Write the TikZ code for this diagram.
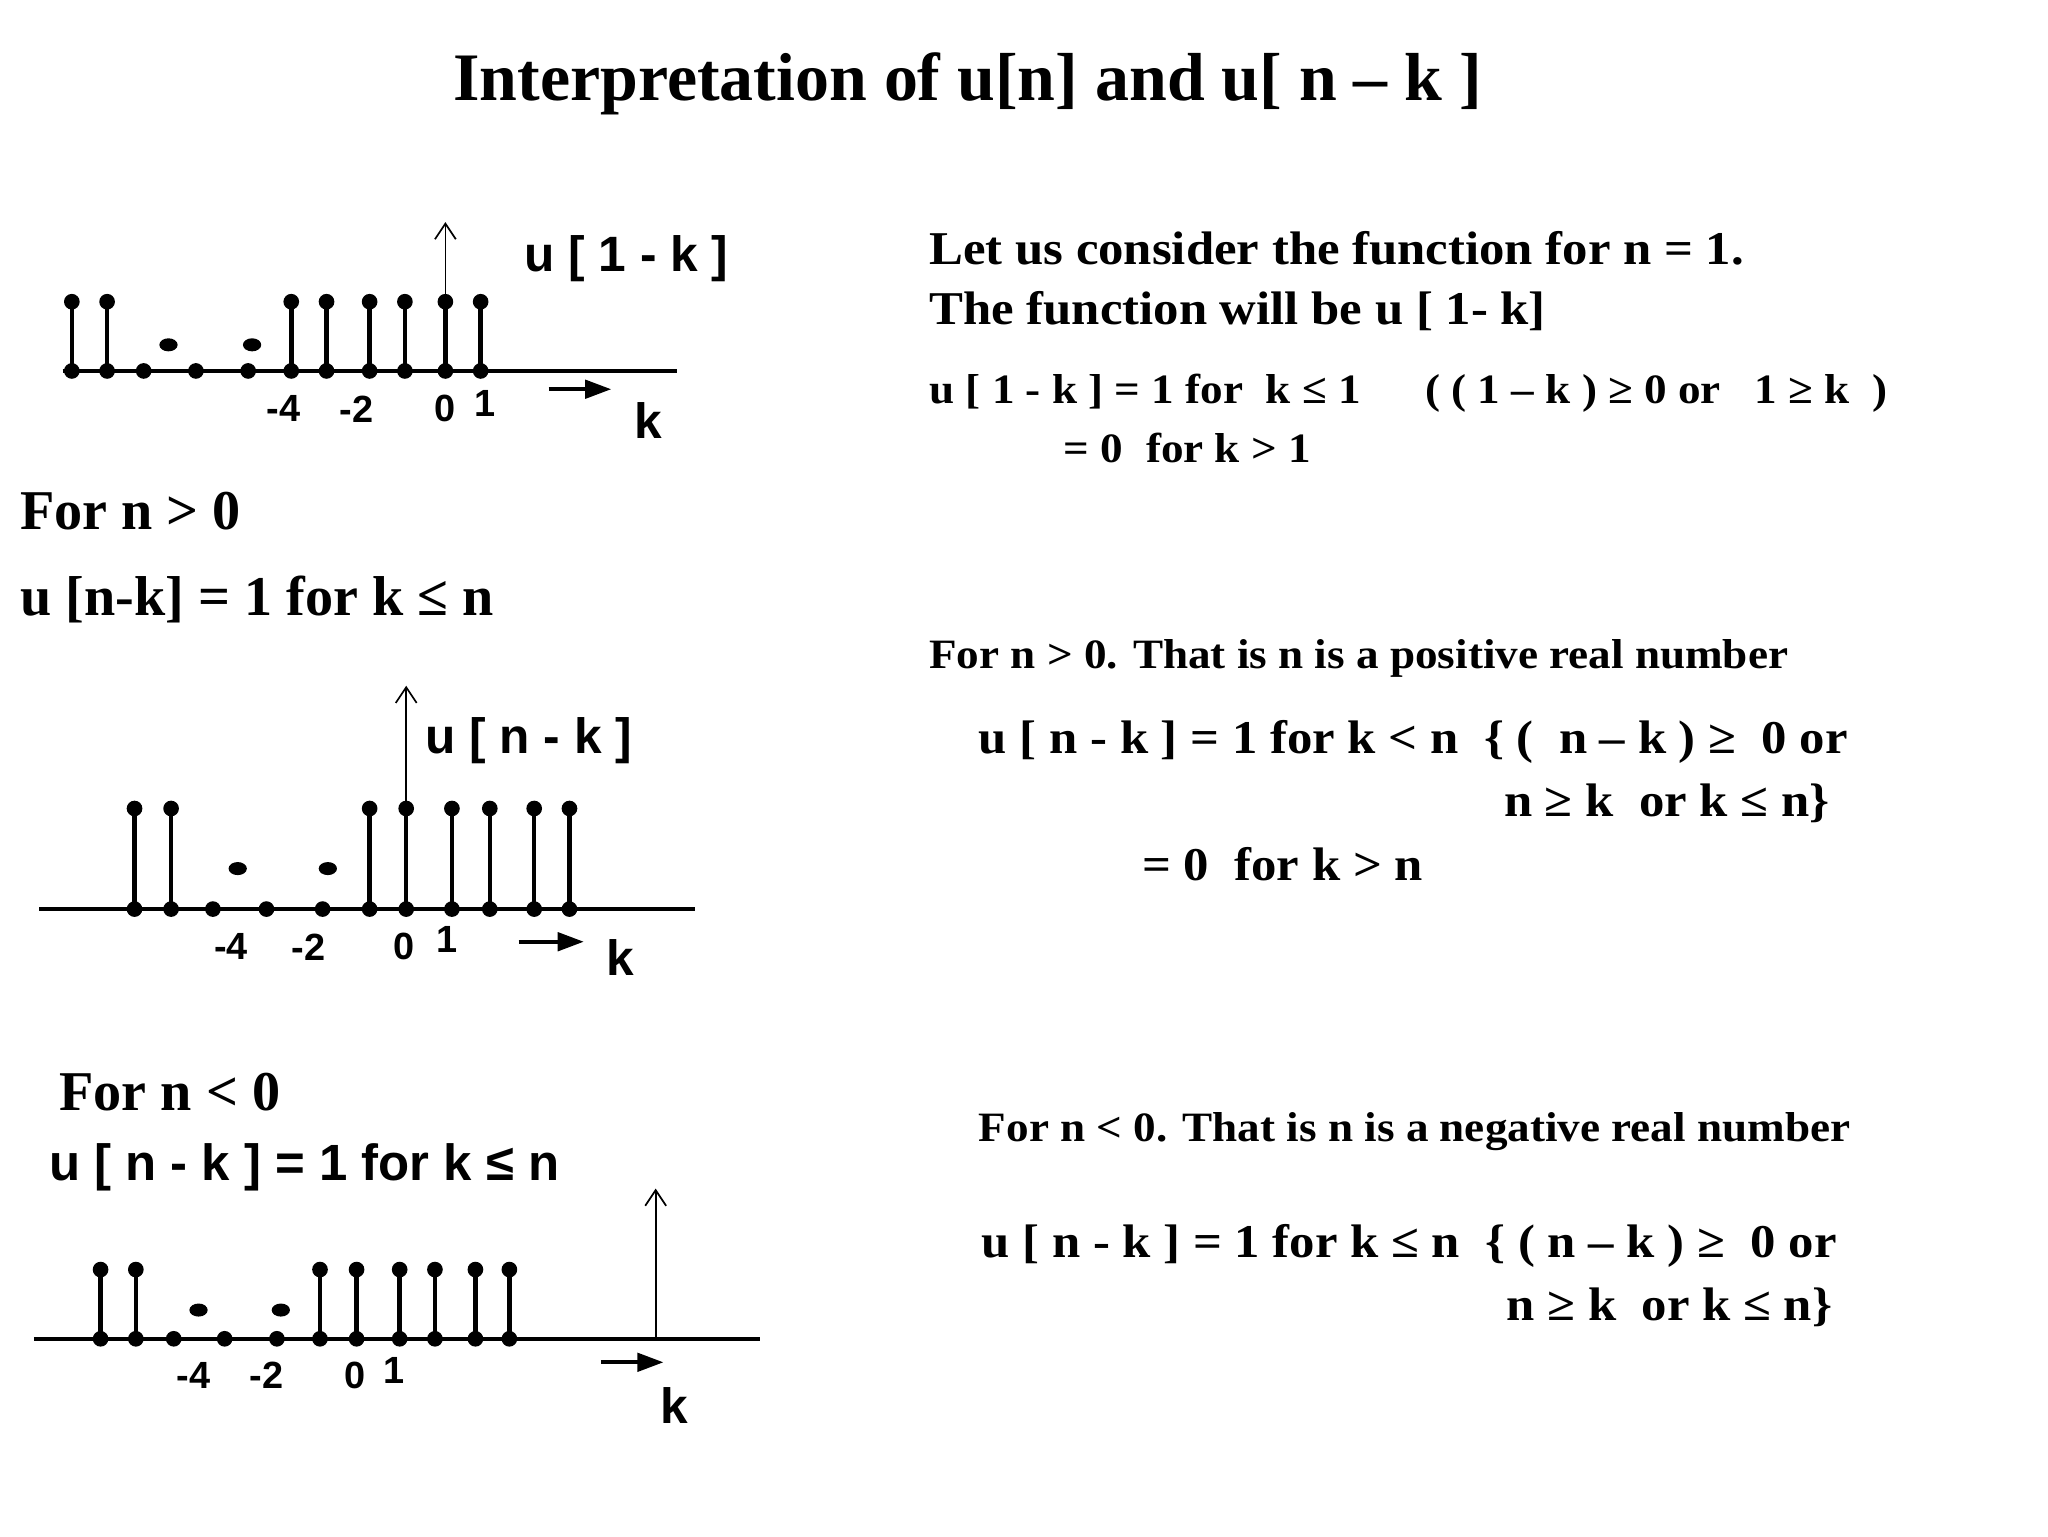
\documentclass[tikz,border=0pt]{standalone}
\usepackage{fontspec}
\usetikzlibrary{arrows.meta}
\setmainfont{Liberation Serif}
\setsansfont{Liberation Sans}
\newfontfamily\wideserif[FakeStretch=1.08,Ligatures=TeX]{Liberation Serif}
\begin{document}
\begin{tikzpicture}[x=1pt,y=-1pt,
  stemline/.style={line width=3.5pt},
  vax/.style={-{Straight Barb[length=12pt,width=16pt,line width=1.3pt]},line width=1.3pt},
  kar/.style={-{Triangle[length=20pt,width=14pt]},line width=3pt},
  axl/.style={font=\sffamily\bfseries\fontsize{29}{32}\selectfont},
  bigl/.style={font=\sffamily\bfseries\fontsize{38}{42}\selectfont},
  tx/.style={font=\wideserif\bfseries\fontsize{36}{40}\selectfont,anchor=west},
  txs/.style={font=\wideserif\bfseries\fontsize{32}{34}\selectfont,anchor=west}]
\useasboundingbox (0,0) rectangle (1568,1176);
\node[font=\bfseries\fontsize{52}{58}\selectfont] (title) at (741,64) {Interpretation of u[n] and u[ n – k ]};
\newcommand{\myplot}[8]{%
 \draw[stemline] (#2,#1) -- (#3,#1);
 \foreach \s in {#4}{\draw[stemline] (\s,#1) -- (\s,#5); \fill (\s,#5) circle (6); \fill (\s,#1) circle (6);}
 \foreach \s in {#6}{\fill (\s,#1) circle (6);}
 \foreach \s in {#7}{\fill (\s,#8) ellipse (7 and 5);}
}
\myplot{284}{48}{518}{55,82,223,250,283,310,341,368}{231}{110,150,190}{129,193}{264}
\coordinate (a1b) at (341,284); \coordinate (a1t) at (341,170);
\draw[vax] (a1b) -- (a1t);
\node[bigl,anchor=west] (l1) at (398,198) {u [ 1 - k ]};
\foreach \x/\t in {217/-4,273/-2,341/0}{\node[axl] at (\x,313) {\t};}
\node[axl] at (371,309) {1};
\coordinate (k1a) at (420,298); \coordinate (k1b) at (468,298);
\draw[kar] (k1a) -- (k1b);
\node[bigl] (k1) at (496,322) {k};

\myplot{696}{30}{532}{103,131,283,311,346,375,409,436}{619}{163,204,247}{182,251}{665}
\coordinate (a2b) at (311,696); \coordinate (a2t) at (311,525);
\draw[vax] (a2b) -- (a2t);
\node[bigl,anchor=west] (l2) at (322,567) {u [ n - k ]};
\foreach \x/\t in {177/-4,236/-2,309/0}{\node[axl] at (\x,725) {\t};}
\node[axl] at (342,719) {1};
\coordinate (k2a) at (397,721); \coordinate (k2b) at (447,721);
\draw[kar] (k2a) -- (k2b);
\node[bigl] (k2) at (475,733) {k};

\myplot{1025}{26}{582}{77,104,245,273,306,333,364,390}{972}{133,172,212}{152,215}{1003}
\coordinate (a3b) at (502,1025); \coordinate (a3t) at (502,910);
\draw[vax] (a3b) -- (a3t);
\foreach \x/\t in {148/-4,204/-2,272/0}{\node[axl] at (\x,1053) {\t};}
\node[axl] at (302,1049) {1};
\coordinate (k3a) at (460,1043); \coordinate (k3b) at (508,1043);
\draw[kar] (k3a) -- (k3b);
\node[bigl] (k3) at (516,1076) {k};

\node[anchor=west,font=\bfseries\fontsize{43}{46}\selectfont] at (12,391) {For n > 0};
\node[anchor=west,font=\bfseries\fontsize{43}{46}\selectfont] at (12,459) {u [n-k] = 1 for k ≤ n};
\node[anchor=west,font=\bfseries\fontsize{43}{46}\selectfont] at (42,836) {For n < 0};
\node[anchor=west,font=\sffamily\bfseries\fontsize{39}{40}\selectfont] at (34,894) {u [ n - k ] = 1 for k ≤ n};

\node[tx] at (708,190) {Let us consider the function for n = 1.};
\node[tx] at (708,238) {The function will be u [ 1- k]};
\node[txs] at (708,301) {u [ 1 - k ] = 1 for\ \ k ≤ 1 \quad\ ( (\ 1 – k ) ≥\ 0 or\ \ \ 1 ≥ k\ \ )};
\node[txs] at (811,343) {= 0\ \ for k > 1};
\node[txs] at (708,504) {For n > 0. That is n is a positive real number};
\node[tx] at (746,568) {u [ n - k ] = 1 for k < n\ \ \{ (\ \ n – k ) ≥\ \ 0 or};
\node[tx] at (1148,615) {n ≥ k\ \ or k ≤ n\}};
\node[tx] at (871,662) {= 0\ \ for k > n};
\node[txs] at (746,866) {For n < 0. That is n is a negative real number};
\node[tx] at (748,954) {u [ n - k ] = 1 for k ≤ n\ \ \{ ( n – k ) ≥\ \ 0 or};
\node[tx] at (1150,1001) {n ≥ k\ \ or k ≤ n\}};
\end{tikzpicture}
\end{document}
